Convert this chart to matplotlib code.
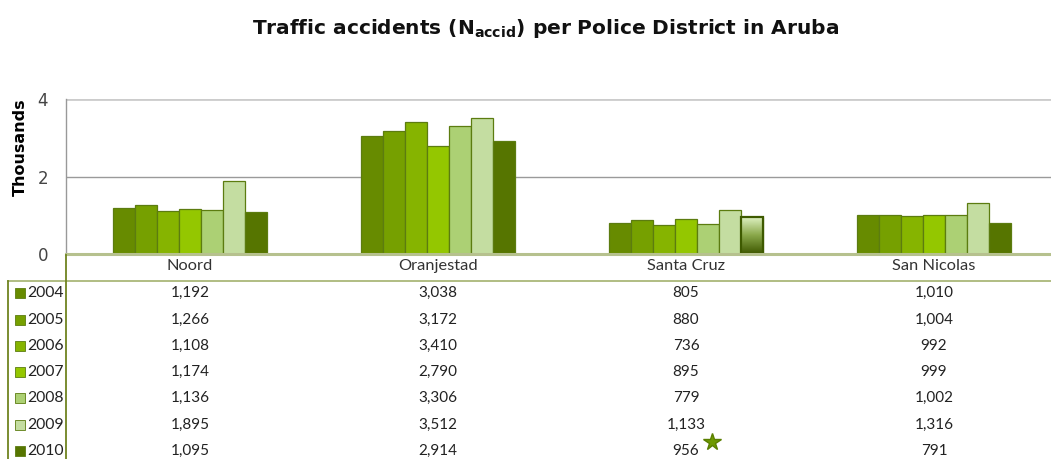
import matplotlib
matplotlib.use("Agg")
import matplotlib.pyplot as plt
import numpy as np
from matplotlib.lines import Line2D
from matplotlib.patches import Rectangle
from matplotlib.colors import LinearSegmentedColormap

districts = ["Noord", "Oranjestad", "Santa Cruz", "San Nicolas"]
years = ["2004", "2005", "2006", "2007", "2008", "2009", "2010"]
v2004 = [1192, 3038, 805, 1010]
v2005 = [1266, 3172, 880, 1004]
v2006 = [1108, 3410, 736, 992]
v2007 = [1174, 2790, 895, 999]
v2008 = [1136, 3306, 779, 1002]
v2009 = [1895, 3512, 1133, 1316]
v2010 = [1095, 2914, 956, 791]
series = [v2004, v2005, v2006, v2007, v2008, v2009, v2010]
colors = ["#678b00", "#76a000", "#86b400", "#94c700", "#acd074", "#c4dda1", "#567500"]

plt.rcParams['font.family'] = ['Lato', 'DejaVu Sans']
plt.rcParams['mathtext.fontset'] = 'custom'
plt.rcParams['mathtext.rm'] = 'DejaVu Sans:bold'
plt.rcParams['mathtext.it'] = 'DejaVu Sans:bold'

W, H = 1051, 459
fig = plt.figure(figsize=(W / 100, H / 100), dpi=100)

def fx(px):
    return px / W

def fy(py):
    return 1 - py / H

left, right, top, bottom = 66, 1058, 99, 254
ax = fig.add_axes([fx(left), fy(bottom), fx(right - left), (bottom - top) / H])
ax.set_xlim(-0.5, 3.5)
ax.set_ylim(0, 4)

bw = 22 / 248
x = np.arange(len(districts))
bars_2010 = None
for j, (vals, c) in enumerate(zip(series, colors)):
    pos = x + (j - 3) * bw
    b = ax.bar(pos, np.array(vals) / 1000, width=bw, color=c,
               edgecolor="#5c7c10", linewidth=0.9, zorder=3)
    if j == 6:
        bars_2010 = b

# gradient on selected bar (Santa Cruz 2010)
sel = bars_2010[2]
x0 = sel.get_x()
h = sel.get_height()
grad = np.linspace(0, 1, 100).reshape(-1, 1)
cmap = LinearSegmentedColormap.from_list("g", ["#3e5800", "#8aa84a", "#e2f5c8"])
im = ax.imshow(grad, extent=[x0, x0 + bw, 0, h], aspect='auto', cmap=cmap,
               origin='lower', zorder=4)
im.set_clip_path(sel)
ax.add_patch(Rectangle((x0, 0), bw, h, fill=False, edgecolor="#3e5a00",
                       linewidth=1.6, zorder=5))
ax.set_xlim(-0.5, 3.5)
ax.set_ylim(0, 4)

# grid
ax.axhline(2, color="#9a9a9a", linewidth=1, zorder=1)
ax.axhline(4, color="#cccccc", linewidth=2, zorder=1)
ax.axhline(0, color="#b6c18e", linewidth=2.2, zorder=6, clip_on=False)

for s in ["top", "right", "bottom"]:
    ax.spines[s].set_visible(False)
ax.spines["left"].set_color("#999999")
ax.spines["left"].set_linewidth(1)
ax.set_xticks([])
ax.set_yticks([0, 2, 4])
ax.set_yticklabels(["0", "2", "4"], fontsize=12, color="#444444",
                   family=['DejaVu Sans'])
ax.tick_params(axis='y', length=0, pad=13)
ax.set_ylabel("Thousands", fontsize=11.5, fontweight='bold', family=['DejaVu Sans'])
ax.yaxis.set_label_coords(-38 / (right - left), (bottom - 147) / (bottom - top))

# title
fig.text(fx(546), fy(28), r"Traffic accidents (N$_{accid}$) per Police District in Aruba",
         ha='center', va='center', fontsize=14.5, fontweight='bold', color="#111111",
         family=['DejaVu Sans'])

# category labels
for i, d in enumerate(districts):
    ax.text(i, -0.035, d, transform=ax.get_xaxis_transform(), ha='center', va='top',
            fontsize=11.8, color="#333333")

# table lines
olive = "#6f8420"
fig.add_artist(Line2D([fx(8), fx(W)], [fy(281), fy(281)], color="#aab77a", linewidth=1.3))
fig.add_artist(Line2D([fx(8), fx(8)], [fy(281), fy(H)], color=olive, linewidth=1.3))
fig.add_artist(Line2D([fx(66), fx(66)], [fy(255), fy(H)], color=olive, linewidth=1.3))

row_y = [293, 320, 346, 372, 398, 425, 451]
trans = matplotlib.transforms.blended_transform_factory(ax.transData, fig.transFigure)
for j, (yr, vals, c) in enumerate(zip(years, series, colors)):
    yy = fy(row_y[j])
    fig.add_artist(Rectangle((fx(15), yy - 5 / H), 10 / W, 10 / H, transform=fig.transFigure,
                             facecolor=c, edgecolor="#5c7c10", linewidth=0.6))
    fig.text(fx(27), yy, yr, ha='left', va='center', fontsize=11.3, color="#222222")
    for i, v in enumerate(vals):
        fig.text(i, yy, f"{v:,}", transform=trans, ha='center', va='center',
                 fontsize=11, color="#222222")

# star marker near selected value
fig.add_artist(Line2D([fx(712)], [fy(442)], marker='*', markersize=13,
                      color="#6f9a00", markeredgecolor="#5a7f00", transform=fig.transFigure))

fig.savefig("out.png", dpi=100)
